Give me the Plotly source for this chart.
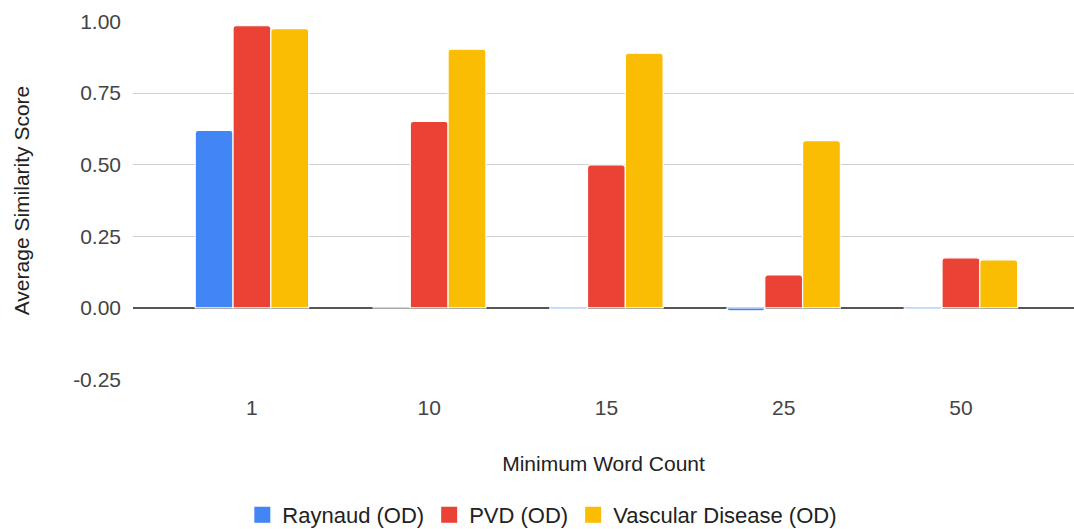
import plotly.graph_objects as go

# Minimum word count thresholds (categories on the x axis)
word_counts = ["1", "10", "15", "25", "50"]

# Average similarity score per term
raynaud = [0.62, 0.0, -0.005, -0.01, -0.005]
pvd = [0.985, 0.651, 0.499, 0.115, 0.175]
vascular = [0.975, 0.903, 0.889, 0.584, 0.168]

series = [
    ("Raynaud (OD)", raynaud, "#4285F4"),
    ("PVD (OD)", pvd, "#EA4335"),
    ("Vascular Disease (OD)", vascular, "#FBBC04"),
]

y_ticks = [-0.25, 0.0, 0.25, 0.5, 0.75, 1.0]
y_tick_text = ["-0.25", "0.00", "0.25", "0.50", "0.75", "1.00"]

font_family = "Liberation Sans, Arial, sans-serif"
fs = 21

fig = go.Figure()
for name, values, color in series:
    fig.add_trace(go.Bar(
        x=word_counts,
        y=values,
        name=name,
        showlegend=False,
        marker=dict(color=color, line=dict(color="white", width=1.2), cornerradius=3),
    ))

# Legend entries drawn as larger square swatches
for name, values, color in series:
    fig.add_trace(go.Scatter(
        x=[None],
        y=[None],
        mode="markers",
        name=name,
        marker=dict(symbol="square", size=16, color=color),
    ))

fig.update_layout(
    width=1074,
    height=529,
    margin=dict(l=133, r=0, t=21, b=149, autoexpand=False),
    paper_bgcolor="white",
    plot_bgcolor="white",
    barmode="group",
    bargap=0.36,
    bargroupgap=0.0,
    font=dict(family=font_family, size=fs, color="#444444"),
    xaxis=dict(
        type="category",
        range=[-0.671, 4.638],
        showgrid=False,
        showline=False,
        ticks="",
        automargin=False,
        ticklabelstandoff=13,
        tickfont=dict(size=fs, color="#444444"),
        title=dict(text="Minimum Word Count", font=dict(size=fs, color="#222222"), standoff=38),
    ),
    yaxis=dict(
        range=[-0.2515, 1.0015],
        tickvals=y_ticks,
        ticktext=y_tick_text,
        showgrid=True,
        gridcolor="#d0d0d0",
        gridwidth=1,
        zeroline=True,
        zerolinecolor="#555555",
        zerolinewidth=1.5,
        showline=False,
        ticks="",
        automargin=False,
        ticklabelstandoff=11,
        tickfont=dict(size=fs, color="#444444"),
        title=dict(text="Average Similarity Score", font=dict(size=fs, color="#222222"), standoff=37),
    ),
    legend=dict(
        orientation="h",
        x=0.435,
        xanchor="center",
        y=-0.376,
        yanchor="middle",
        font=dict(size=22, color="#222222"),
        itemwidth=30,
        itemsizing="trace",
        traceorder="normal",
    ),
)

fig.write_html("out.html")
